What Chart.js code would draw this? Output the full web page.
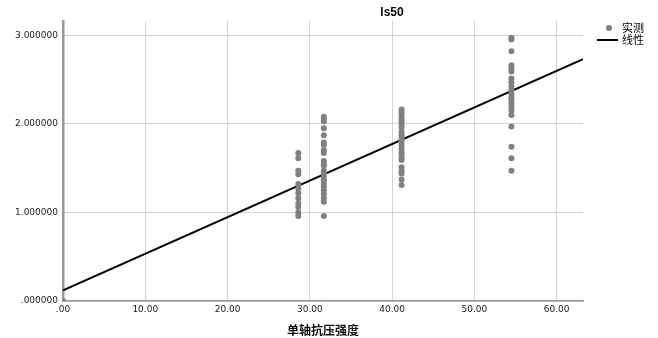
<!DOCTYPE html>
<html>
<head>
<meta charset="utf-8">
<script src="https://cdn.jsdelivr.net/npm/chart.js@4/dist/chart.umd.min.js"></script>
<style>
  html, body { margin: 0; padding: 0; background: #fff; }
  #wrap { width: 658px; height: 338px; }
</style>
</head>
<body>
<div id="wrap"><canvas id="chart"></canvas></div>
<script>
// strength value of each column of points (x)
const groupX = [28.6, 31.7, 41.15, 54.5];

// Is50 values measured in each column (y)
const group1 = [1.67, 1.61, 1.47, 1.43, 1.32, 1.27, 1.22, 1.16, 1.10, 1.06, 1.00, 0.96];
const group2 = [2.08, 2.06, 2.03, 1.95, 1.87, 1.79, 1.76, 1.70, 1.67, 1.58, 1.55, 1.53,
  1.47, 1.44, 1.40, 1.36, 1.32, 1.29, 1.25, 1.21, 1.16, 1.12, 0.96];
const group3 = [2.16, 2.13, 2.10, 2.06, 2.03, 2.00, 1.96, 1.91, 1.87, 1.84, 1.80, 1.76,
  1.72, 1.68, 1.65, 1.61, 1.59, 1.51, 1.47, 1.44, 1.37, 1.31];
const group4 = [2.97, 2.95, 2.82, 2.66, 2.63, 2.59, 2.51, 2.47, 2.42, 2.38, 2.34, 2.30,
  2.27, 2.23, 2.19, 2.15, 2.10, 1.97, 1.74, 1.61, 1.47];

// linear fit, drawn over the whole x range
const fitX = [0, 63.2];
const fitY = [0.12, 2.73];

const xTicks = [0, 10, 20, 30, 40, 50, 60];
const yTicks = [0, 1, 2, 3];

const groups = [group1, group2, group3, group4];
const measured = [{ x: 0, y: 0 }];
groups.forEach((vals, i) => {
  vals.forEach((v) => measured.push({ x: groupX[i], y: v }));
});
const fitLine = fitX.map((x, i) => ({ x, y: fitY[i] }));

const TICK_FONT = { family: 'DejaVu Sans', size: 9 };
const GRID = '#d4d4d4';
const AXIS = '#9a9a9a';

const extrasPlugin = {
  id: 'extras',
  afterDraw(chart) {
    const { ctx } = chart;
    ctx.save();
    // title
    ctx.fillStyle = '#000';
    ctx.font = 'bold 12px "Liberation Sans"';
    ctx.textAlign = 'center';
    ctx.textBaseline = 'middle';
    ctx.fillText('ls50', 392, 13);

    // legend
    ctx.textAlign = 'left';
    ctx.font = '11px "Noto Sans CJK SC"';
    ctx.fillStyle = '#808080';
    ctx.beginPath();
    ctx.arc(609, 28, 3, 0, Math.PI * 2);
    ctx.fill();
    ctx.fillStyle = '#000';
    ctx.fillText('实测', 622, 28);

    ctx.strokeStyle = '#000';
    ctx.lineWidth = 2;
    ctx.beginPath();
    ctx.moveTo(597, 40);
    ctx.lineTo(618, 40);
    ctx.stroke();
    ctx.fillText('线性', 622, 40);
    ctx.restore();
  },
};

new Chart(document.getElementById('chart'), {
  type: 'scatter',
  data: {
    datasets: [
      {
        label: '实测',
        data: measured,
        backgroundColor: '#808080',
        borderWidth: 0,
        pointRadius: 3,
        pointHoverRadius: 3,
      },
      {
        type: 'line',
        label: '线性',
        data: fitLine,
        borderColor: '#000',
        borderWidth: 2,
        pointRadius: 0,
        fill: false,
      },
    ],
  },
  options: {
    responsive: true,
    maintainAspectRatio: false,
    animation: false,
    layout: { padding: { left: 0, right: 75, top: 21, bottom: 0 } },
    plugins: {
      legend: { display: false },
      tooltip: { enabled: false },
    },
    scales: {
      x: {
        type: 'linear',
        min: 0,
        max: 63.2,
        afterBuildTicks: (scale) => {
          scale.ticks = xTicks.map((value) => ({ value }));
        },
        afterFit: (scale) => {
          scale.height = 37;
        },
        ticks: {
          font: TICK_FONT,
          color: '#222',
          padding: 3,
          maxRotation: 0,
          callback: (v) => (v === 0 ? '.00' : v.toFixed(2)),
        },
        grid: { color: GRID, drawTicks: false },
        border: { color: AXIS, width: 1.5 },
        title: {
          display: true,
          text: '单轴抗压强度',
          font: { family: 'Noto Sans CJK SC', size: 12, weight: 'bold' },
          color: '#111',
          padding: { top: 4, bottom: 0 },
        },
      },
      y: {
        min: 0,
        max: 3.16,
        afterBuildTicks: (scale) => {
          scale.ticks = yTicks.map((value) => ({ value }));
        },
        afterFit: (scale) => {
          scale.width = 63;
        },
        ticks: {
          font: TICK_FONT,
          color: '#222',
          padding: 5,
          callback: (v) => (v === 0 ? '.000000' : v.toFixed(6)),
        },
        grid: { color: GRID, drawTicks: false },
        border: { color: AXIS, width: 2.5 },
      },
    },
  },
  plugins: [extrasPlugin],
});
</script>
</body>
</html>
